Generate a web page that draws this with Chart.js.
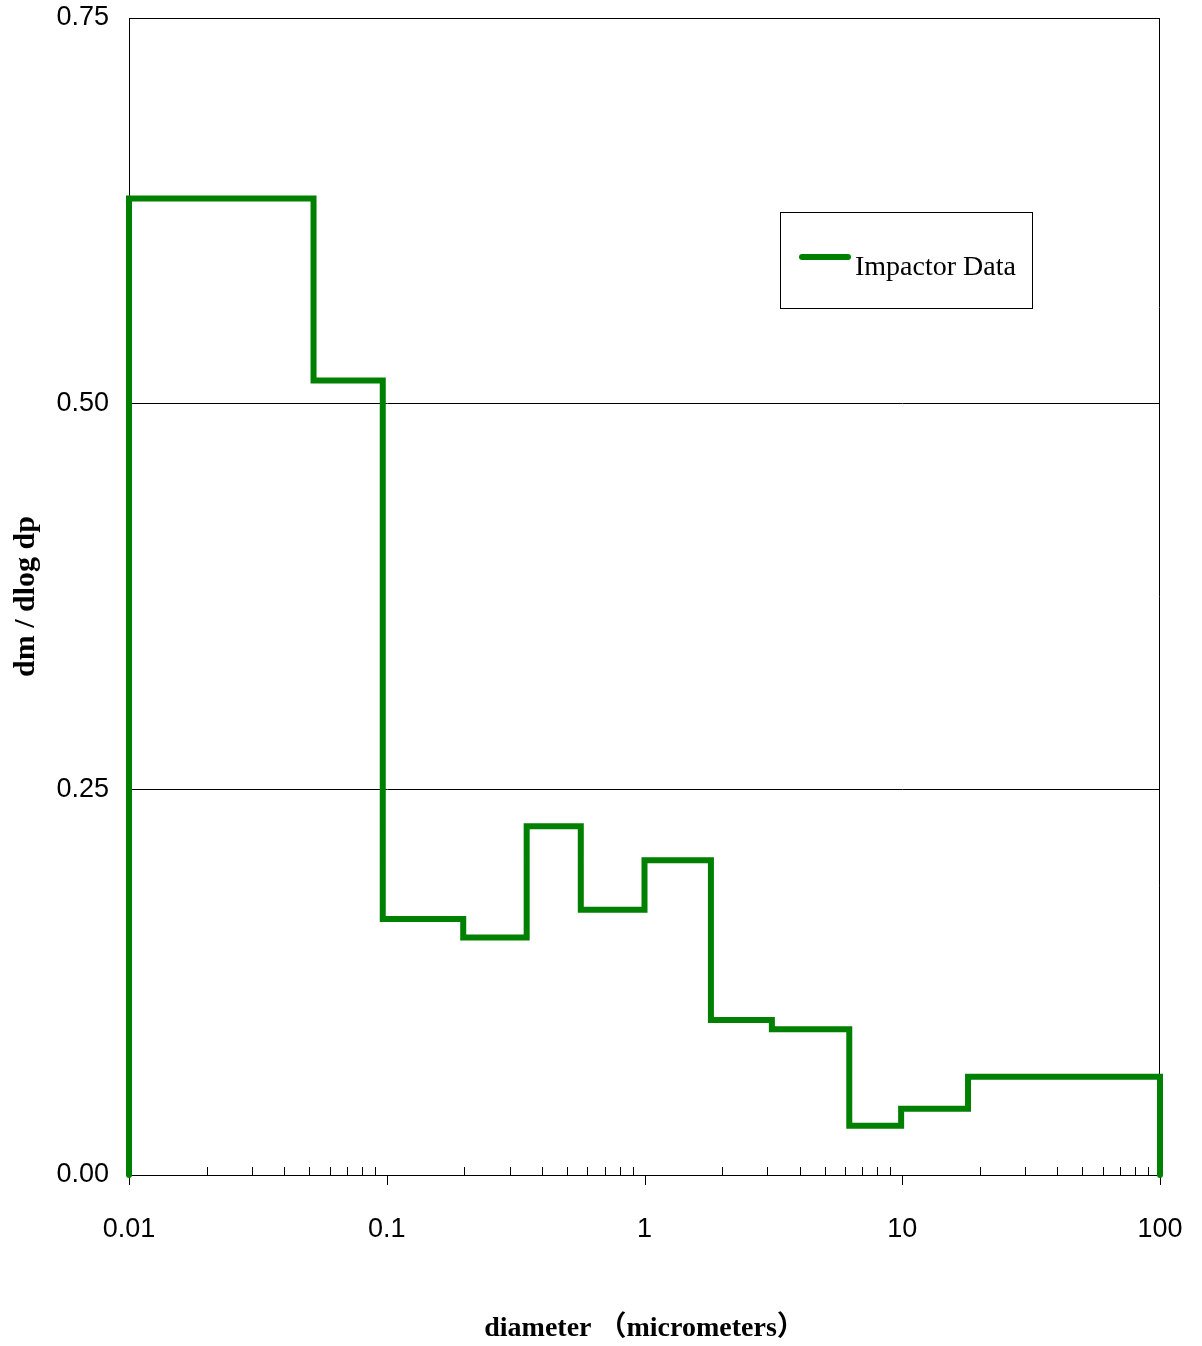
<!DOCTYPE html>
<html>
<head>
<meta charset="utf-8">
<script src="https://cdn.jsdelivr.net/npm/chart.js@4.4.1/dist/chart.umd.min.js"></script>
<style>
  html, body { margin: 0; padding: 0; background: #ffffff; }
  #wrap { width: 1202px; height: 1346px; }
</style>
</head>
<body>
<div id="wrap"><canvas id="c" width="1202" height="1346"></canvas></div>
<script>
// Impactor stage boundaries (micrometers) and dm/dlog dp per stage
const binEdges = [0.01, 0.052, 0.0965, 0.198, 0.349, 0.566, 1.0, 1.81, 3.12, 6.23, 9.9, 18.0, 100];
const stageValues = [0.633, 0.515, 0.166, 0.154, 0.226, 0.172, 0.204, 0.1005, 0.0945, 0.032, 0.043, 0.0637];
const yTicks = [0, 0.25, 0.5, 0.75];
const xDecades = [0.01, 0.1, 1, 10, 100];
const seriesLabel = 'Impactor Data';

// Histogram outline: rise from zero at the first edge, step across each stage, drop to zero at the last edge
const stepPoints = [{ x: binEdges[0], y: 0 }];
stageValues.forEach((v, i) => {
  stepPoints.push({ x: binEdges[i], y: v });
  stepPoints.push({ x: binEdges[i + 1], y: v });
});
stepPoints.push({ x: binEdges[binEdges.length - 1], y: 0 });

// All log ticks 1..9 per decade
const logTicks = [];
for (let d = 0; d < xDecades.length - 1; d++) {
  for (let m = 1; m <= 9; m++) logTicks.push(+(xDecades[d] * m).toPrecision(6));
}
logTicks.push(xDecades[xDecades.length - 1]);
const isDecade = v => xDecades.some(d => Math.abs(d - v) / d < 1e-6);

const frame = {
  id: 'frame',
  beforeDatasetsDraw(chart) {
    const { ctx, chartArea: a, scales } = chart;
    ctx.save();
    ctx.strokeStyle = '#000';
    ctx.lineWidth = 1;
    ctx.beginPath();
    ctx.moveTo(a.left + 0.5, a.bottom); ctx.lineTo(a.left + 0.5, a.top + 0.5);
    ctx.lineTo(a.right - 0.5, a.top + 0.5); ctx.lineTo(a.right - 0.5, a.bottom);
    ctx.stroke();
    // minor ticks point into the plot, decade ticks point outward
    const x = scales.x;
    ctx.beginPath();
    logTicks.forEach(v => {
      const px = Math.round(x.getPixelForValue(v)) + 0.5;
      if (isDecade(v)) {
        ctx.moveTo(px, a.bottom); ctx.lineTo(px, a.bottom + 10);
      } else {
        ctx.moveTo(px, a.bottom); ctx.lineTo(px, a.bottom - 8);
      }
    });
    ctx.stroke();
    ctx.restore();
  },
  afterDraw(chart) {
    const { ctx, chartArea: a } = chart;
    const ds = chart.data.datasets[0];
    const bx = a.left + 651, by = a.top + 194, bw = 252, bh = 96;
    ctx.save();
    ctx.fillStyle = '#fff';
    ctx.fillRect(bx, by, bw, bh);
    ctx.strokeStyle = '#000';
    ctx.lineWidth = 1;
    ctx.strokeRect(bx + 0.5, by + 0.5, bw, bh);
    ctx.strokeStyle = ds.borderColor;
    ctx.lineWidth = 6;
    ctx.lineCap = 'round';
    ctx.beginPath();
    ctx.moveTo(bx + 22, by + 45); ctx.lineTo(bx + 68, by + 45);
    ctx.stroke();
    ctx.fillStyle = '#000';
    ctx.font = '28px "Liberation Serif", "Times New Roman", serif';
    ctx.textBaseline = 'middle';
    ctx.fillText(ds.label, bx + 75, by + 56);
    ctx.restore();
  }
};

new Chart(document.getElementById('c'), {
  type: 'scatter',
  data: {
    datasets: [{
      label: seriesLabel,
      data: stepPoints,
      showLine: true,
      borderColor: '#008000',
      backgroundColor: '#008000',
      borderWidth: 6,
      borderJoinStyle: 'miter',
      borderCapStyle: 'round',
      pointRadius: 0,
      pointHoverRadius: 0,
      tension: 0,
      clip: false
    }]
  },
  options: {
    responsive: false,
    animation: false,
    devicePixelRatio: 1,
    layout: { padding: { top: 18, right: 42, left: 0, bottom: 0 } },
    plugins: { legend: { display: false }, tooltip: { enabled: false } },
    scales: {
      x: {
        type: 'logarithmic',
        min: xDecades[0],
        max: xDecades[xDecades.length - 1],
        afterBuildTicks(scale) { scale.ticks = xDecades.map(v => ({ value: v })); },
        afterFit(scale) { scale.height = 171; scale.paddingLeft = 0; scale.paddingRight = 0; },
        ticks: {
          autoSkip: false,
          maxRotation: 0,
          padding: 38,
          color: '#000',
          font: { family: '"Liberation Sans", Arial, sans-serif', size: 27 },
          callback: v => String(v)
        },
        grid: { display: true, drawOnChartArea: false, drawTicks: false, color: 'rgba(0,0,0,0)' },
        border: { display: true, color: '#000', width: 1 },
        title: {
          display: true,
          text: 'diameter （micrometers）',
          color: '#000',
          font: { family: '"Liberation Serif", "Times New Roman", "Noto Sans CJK SC", serif', size: 28, weight: 'bold' },
          padding: { top: 0, bottom: 0 }
        }
      },
      y: {
        min: 0,
        max: 0.75,
        afterBuildTicks(scale) { scale.ticks = yTicks.map(v => ({ value: v })); },
        afterFit(scale) { scale.width = 129; scale.paddingTop = 0; scale.paddingBottom = 0; },
        ticks: {
          padding: 20,
          color: '#000',
          font: { family: '"Liberation Sans", Arial, sans-serif', size: 27 },
          callback: v => Number(v).toFixed(2)
        },
        grid: { color: '#000', lineWidth: 1, drawTicks: false },
        border: { display: true, color: '#000', width: 1 },
        title: {
          display: true,
          text: 'dm / dlog dp',
          color: '#000',
          font: { family: '"Liberation Serif", "Times New Roman", serif', size: 30, weight: 'bold' },
          padding: { top: 8, bottom: 0 }
        }
      }
    }
  },
  plugins: [frame]
});
</script>
</body>
</html>
